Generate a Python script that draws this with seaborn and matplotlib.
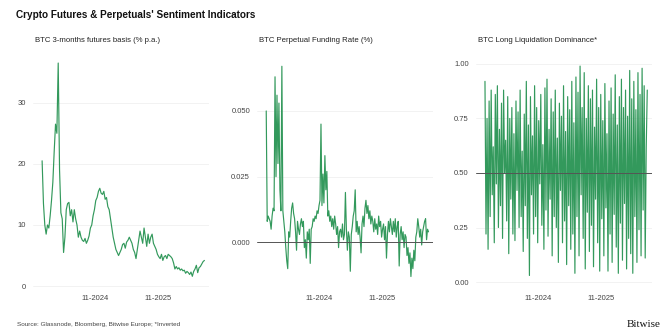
import matplotlib
matplotlib.use("Agg")
import matplotlib.pyplot as plt
import matplotlib.dates as mdates
import pandas as pd
import seaborn as sns

sns.set_style("white")
plt.rcParams['font.family'] = ['Liberation Sans', 'DejaVu Sans']

line_color = '#33995c'
ref_color = '#555555'
grid_color = '#f0f0f0'
tick_color = '#444444'

# Data
start_date = "2023-12-25"
end_date = "2026-07-31"

basis = [
    20.5, 13.5, 10, 8.5, 10, 9.5, 11.5, 14, 17, 22, 26.5, 25, 36.5, 19, 12, 11,
    5.5, 8, 12.5, 13.5, 13.7, 11.5, 12.5, 10.5, 12.5, 11, 10, 8, 9, 8, 7.5, 7.3,
    7.8, 7, 7.5, 8.2, 9.5, 10, 11.5, 12.5, 14, 14.5, 15.5, 16, 15.2, 15, 15.5,
    14.2, 14.5, 13, 12.5, 11, 9.5, 8, 7, 6, 5.5, 5, 5.5, 6, 6.8, 7, 6.2, 7.2,
    7.5, 8, 7.5, 7, 6, 5.5, 4.5, 6, 7.5, 9, 8, 7, 9.5, 8, 6.5, 8.5, 7, 8, 8.5,
    7, 6.5, 6, 5.2, 4.8, 4.5, 5.2, 4.2, 4.8, 5, 4.5, 5.2, 5, 4.8, 4.5, 3.8, 2.8,
    3.2, 2.8, 3, 2.6, 2.8, 2.5, 2.6, 2.1, 2.4, 2.2, 1.9, 2.3, 1.6, 2.4, 2.8, 3.4,
    2.2, 3, 3.2, 3.6, 4, 4.2,
]

funding = [
    0.050, 0.008, 0.010, 0.009, 0.008, 0.005, 0.010, 0.013, 0.012, 0.063, 0.025,
    0.056, 0.030, 0.053, 0.020, 0.012, 0.067, 0.012, 0.008, 0.004, -0.002,
    -0.007, -0.010, 0.004, 0.002, 0.008, 0.013, 0.015, 0.011, 0.009, 0.004,
    -0.003, 0.008, 0.005, 0.003, 0.007, 0.009, 0.006, 0.008, -0.002, 0.001,
    -0.006, 0.004, 0.001, 0.005, -0.008, 0.005, 0.006, 0.009, 0.008, 0.010,
    0.009, 0.012, 0.011, 0.014, 0.016, 0.045, 0.014, 0.026, 0.015, 0.033,
    0.020, 0.027, 0.010, 0.012, 0.008, 0.010, 0.006, 0.009, 0.005, 0.010,
    0.007, 0.003, 0.006, -0.002, 0.004, 0.005, 0.002, 0.007, 0.001, 0.003,
    0.019, 0.005, -0.003, 0.004, 0.002, -0.011, 0.003, 0.006, 0.010, 0.012,
    0.020, 0.004, 0.008, 0.003, 0.006, 0.002, -0.004, 0.007, 0.010, 0.006,
    0.013, 0.016, 0.011, 0.014, 0.009, 0.012, 0.007, 0.010, 0.008, 0.004,
    0.009, 0.005, 0.007, 0.003, 0.010, 0.006, 0.008, 0.002, 0.005, 0.007,
    0.001, 0.006, -0.006, 0.003, 0.008, 0.004, 0.009, 0.006, 0.003, 0.008,
    0.004, 0.009, 0.002, 0.006, 0.008, -0.009, 0.003, 0.006, 0.001, 0.004,
    -0.002, 0.003, 0.002, -0.005, -0.002, -0.008, -0.004, -0.013, -0.006,
    -0.010, -0.003, -0.007, 0.002, 0.004, 0.009, 0.006, 0.002, 0.005, -0.001,
    0.004, 0.006, 0.008, 0.009, 0.001, 0.005, 0.004,
]

long_liq = [
    0.92, 0.22, 0.75, 0.15, 0.83, 0.30, 0.88, 0.40, 0.62, 0.18, 0.86, 0.45,
    0.90, 0.25, 0.70, 0.35, 0.82, 0.20, 0.88, 0.50, 0.65, 0.28, 0.85, 0.13,
    0.75, 0.38, 0.80, 0.22, 0.68, 0.19, 0.83, 0.42, 0.78, 0.25, 0.88, 0.30,
    0.60, 0.14, 0.77, 0.35, 0.92, 0.20, 0.72, 0.03, 0.85, 0.40, 0.67, 0.22,
    0.90, 0.30, 0.80, 0.18, 0.74, 0.45, 0.86, 0.26, 0.63, 0.15, 0.89, 0.33,
    0.93, 0.21, 0.70, 0.38, 0.84, 0.12, 0.78, 0.30, 0.88, 0.25, 0.66, 0.09,
    0.82, 0.42, 0.76, 0.18, 0.90, 0.28, 0.69, 0.08, 0.85, 0.35, 0.79, 0.15,
    0.92, 0.22, 0.73, 0.04, 0.94, 0.30, 0.87, 0.12, 0.99, 0.40, 0.80, 0.20,
    0.96, 0.06, 0.75, 0.32, 0.90, 0.14, 0.84, 0.26, 0.88, 0.07, 0.71, 0.38,
    0.93, 0.18, 0.80, 0.05, 0.86, 0.29, 0.74, 0.12, 0.91, 0.34, 0.68, 0.05,
    0.83, 0.22, 0.89, 0.09, 0.77, 0.31, 0.95, 0.16, 0.72, 0.04, 0.85, 0.27,
    0.93, 0.10, 0.80, 0.36, 0.88, 0.06, 0.76, 0.20, 0.97, 0.13, 0.84, 0.04,
    0.92, 0.30, 0.79, 0.09, 0.96, 0.24, 0.86, 0.12, 0.98, 0.33, 0.90, 0.11,
    0.62, 0.88,
]

panels = [
    ("BTC 3-months futures basis (% p.a.)", basis, (-0.8, 37), [0, 10, 20, 30], "{:.0f}", None),
    ("BTC Perpetual Funding Rate (%)", funding, (-0.0185, 0.0694), [0.0, 0.025, 0.05], "{:.3f}", 0.0),
    ("BTC Long Liquidation Dominance*", long_liq, (-0.041, 1.018), [0, 0.25, 0.5, 0.75, 1.0], "{:.2f}", 0.5),
]

fig = plt.figure(figsize=(6.71, 3.36), dpi=100)
lefts = [0.049, 0.383, 0.709]

for left, (sub, vals, ylim, yticks, fmt, ref) in zip(lefts, panels):
    ax = fig.add_axes([left, 0.134, 0.262, 0.6875])
    df = pd.DataFrame({
        "date": pd.date_range(start_date, end_date, periods=len(vals)),
        "value": vals,
    })
    for y in yticks:
        ax.axhline(y, color=grid_color, linewidth=0.6, zorder=0)
    if ref is not None:
        ax.axhline(ref, color=ref_color, linewidth=0.7, zorder=3)
    sns.lineplot(data=df, x="date", y="value", ax=ax, color=line_color, linewidth=0.85, zorder=2)
    ax.set_ylim(*ylim)
    ax.set_xlim(pd.Timestamp("2023-11-01"), pd.Timestamp("2026-08-25"))
    ax.set_yticks(yticks)
    ax.set_yticklabels([fmt.format(v) for v in yticks])
    ax.set_xticks([pd.Timestamp("2024-11-01"), pd.Timestamp("2025-11-01")])
    ax.xaxis.set_major_formatter(mdates.DateFormatter("%m-%Y"))
    ax.tick_params(length=0, labelsize=5.5, colors=tick_color, pad=5)
    ax.tick_params(axis='x', pad=3)
    ax.set_xlabel("")
    ax.set_ylabel("")
    sns.despine(ax=ax, left=True, bottom=True)
    fig.text(left + 0.003, 0.878, sub, fontsize=5.6, color='#222222', va='center')

fig.text(0.024, 0.955, "Crypto Futures & Perpetuals' Sentiment Indicators",
         fontsize=7.2, fontweight='bold', color='#111111', va='center')
fig.text(0.026, 0.035, "Source: Glassnode, Bloomberg, Bitwise Europe; *Inverted",
         fontsize=4.6, color='#444444', va='center')
fig.text(0.985, 0.035, "Bitwise", family=['Liberation Serif', 'DejaVu Serif'],
         fontsize=8, color='#111111', ha='right', va='center')

fig.savefig("out.png", dpi=100)
